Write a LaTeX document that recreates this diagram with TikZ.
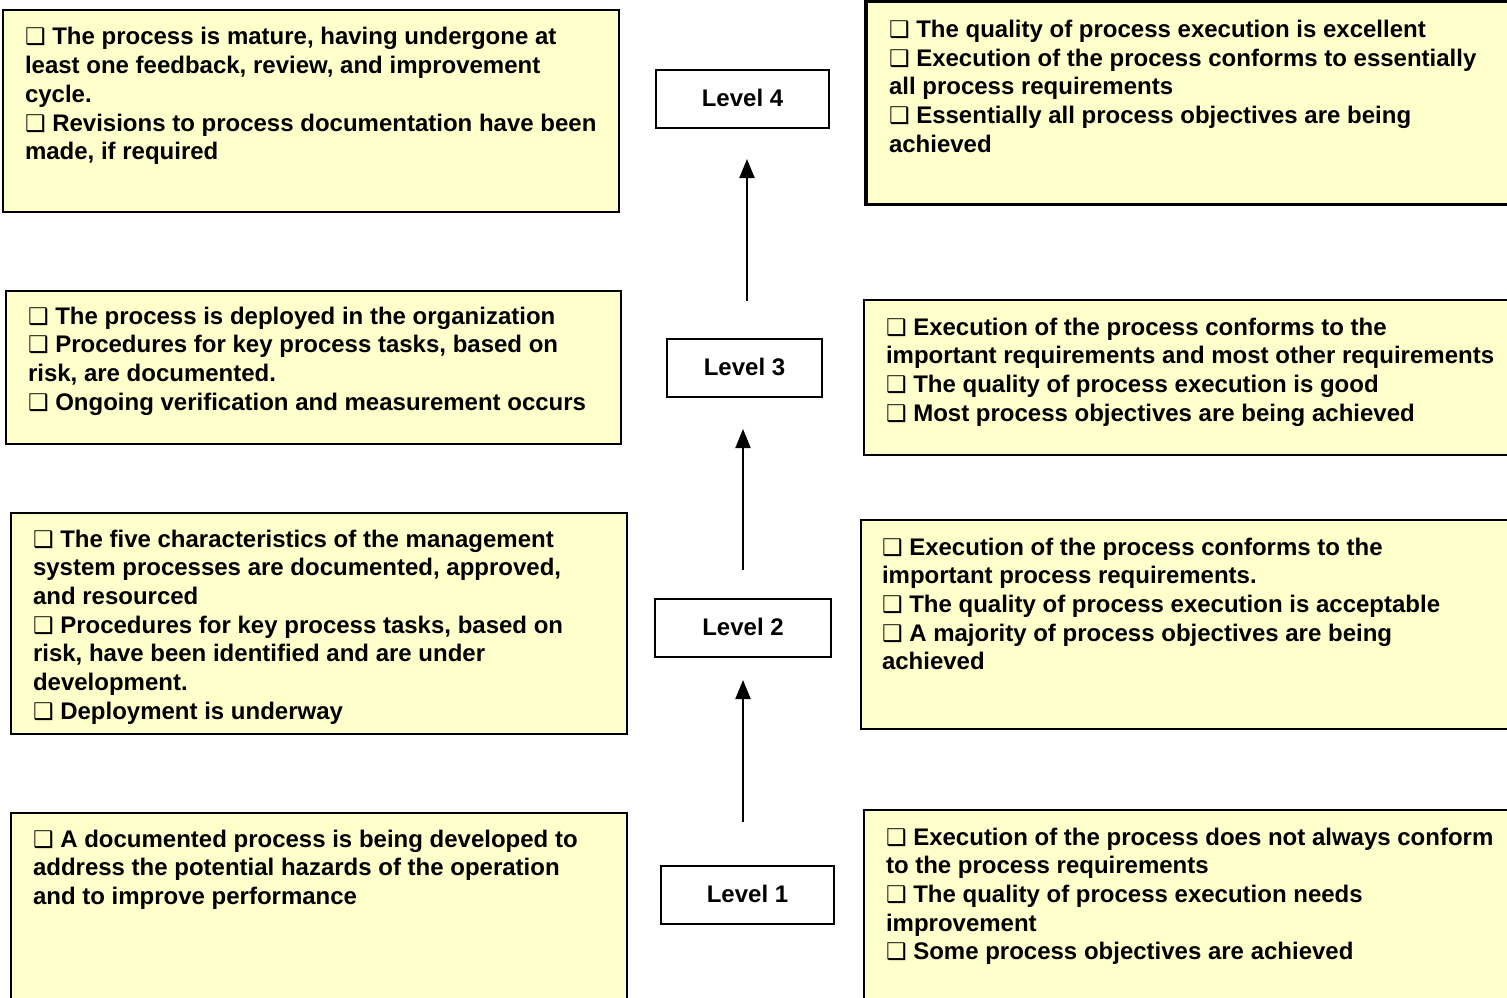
\documentclass[tikz,border=0pt]{standalone}
\usepackage{fontspec}
\setmainfont{Liberation Sans}
\newfontfamily\symfont{DejaVu Sans}
\usetikzlibrary{arrows.meta}

% checkbox bullet
\newcommand{\cbx}{{\symfont\fontsize{23}{23}\selectfont ❑}}
% list text block: first baseline sits on the node's base
\newcommand{\crit}[1]{\parbox[t]{620pt}{\raggedright\fontsize{24}{28.7}\selectfont\bfseries #1}}

\definecolor{paleyellow}{HTML}{FFFFCC}

\tikzset{
  critbox/.style={draw=black, line width=2pt, fill=paleyellow, rectangle,
                  inner sep=0pt, outer sep=0pt},
  crittext/.style={anchor=base west, inner sep=0pt, outer sep=0pt},
  levelbox/.style={draw=black, line width=1.5pt, fill=white, rectangle,
                   inner sep=0pt, outer sep=0pt, minimum height=58pt,
                   text height=19pt, text depth=4pt,
                   font=\fontsize{24}{28}\selectfont\bfseries},
  uparrow/.style={line width=2pt, -{Triangle[length=19pt,width=15pt]}},
}

\begin{document}
\begin{tikzpicture}[x=1pt, y=-1pt]
\useasboundingbox (0,0) rectangle (1507,998);

% ---- left column: process maturity criteria ----
\node[critbox, minimum width=616pt, minimum height=202pt] (b4l) at (311,111) {};
\node[crittext] (t4l) at ([shift={(22pt,-35pt)}]b4l.north west)
  {\crit{\cbx\ The process is mature, having undergone at\\
         least one feedback, review, and improvement\\
         cycle.\\
         \cbx\ Revisions to process documentation have been\\
         made, if required}};

\node[critbox, minimum width=615pt, minimum height=153pt] (b3l) at (313.5,367.5) {};
\node[crittext] (t3l) at ([shift={(22pt,-33pt)}]b3l.north west)
  {\crit{\cbx\ The process is deployed in the organization\\
         \cbx\ Procedures for key process tasks, based on\\
         risk, are documented.\\
         \cbx\ Ongoing verification and measurement occurs}};

\node[critbox, minimum width=616pt, minimum height=221pt] (b2l) at (319,623.5) {};
\node[crittext] (t2l) at ([shift={(22pt,-34pt)}]b2l.north west)
  {\crit{\cbx\ The five characteristics of the management\\
         system processes are documented, approved,\\
         and resourced\\
         \cbx\ Procedures for key process tasks, based on\\
         risk, have been identified and are under\\
         development.\\
         \cbx\ Deployment is underway}};

\node[critbox, minimum width=616pt, minimum height=192pt] (b1l) at (319,909) {};
\node[crittext] (t1l) at ([shift={(22pt,-34pt)}]b1l.north west)
  {\crit{\cbx\ A documented process is being developed to\\
         address the potential hazards of the operation\\
         and to improve performance}};

% ---- right column: process execution criteria ----
\node[critbox, line width=3.5pt, minimum width=646pt, minimum height=203pt] (b4r) at (1189,103) {};
\node[crittext] (t4r) at ([shift={(23pt,-36pt)}]b4r.north west)
  {\crit{\cbx\ The quality of process execution is excellent\\
         \cbx\ Execution of the process conforms to essentially\\
         all process requirements\\
         \cbx\ Essentially all process objectives are being\\
         achieved}};

\node[critbox, minimum width=648pt, minimum height=155pt] (b3r) at (1188,377.5) {};
\node[crittext] (t3r) at ([shift={(22pt,-35pt)}]b3r.north west)
  {\crit{\cbx\ Execution of the process conforms to the\\
         important requirements and most other requirements\\
         \cbx\ The quality of process execution is good\\
         \cbx\ Most process objectives are being achieved}};

\node[critbox, minimum width=651pt, minimum height=209pt] (b2r) at (1186.5,624.5) {};
\node[crittext] (t2r) at ([shift={(21pt,-35pt)}]b2r.north west)
  {\crit{\cbx\ Execution of the process conforms to the\\
         important process requirements.\\
         \cbx\ The quality of process execution is acceptable\\
         \cbx\ A majority of process objectives are being\\
         achieved}};

\node[critbox, minimum width=648pt, minimum height=195pt] (b1r) at (1188,907.5) {};
\node[crittext] (t1r) at ([shift={(22pt,-35pt)}]b1r.north west)
  {\crit{\cbx\ Execution of the process does not always conform\\
         to the process requirements\\
         \cbx\ The quality of process execution needs\\
         improvement\\
         \cbx\ Some process objectives are achieved}};

% ---- centre: maturity levels ----
\node[levelbox, minimum width=173pt] (l4) at (742.5,99) {Level 4};
\node[levelbox, minimum width=155pt] (l3) at (744.5,368) {Level 3};
\node[levelbox, minimum width=176pt] (l2) at (743,628) {Level 2};
\node[levelbox, minimum width=173pt] (l1) at (747.5,895) {Level 1};

\draw[uparrow, shorten <=44pt, shorten >=23pt] (l1.north -| l2.south) -- (l2.south);
\draw[uparrow, shorten <=29pt, shorten >=32pt] (l2.north) -- (l2.north |- l3.south);
\draw[uparrow, shorten <=38pt, shorten >=31pt] ([xshift=2.5pt]l3.north) -- ([xshift=2.5pt]l3.north |- l4.south);
\end{tikzpicture}
\end{document}
